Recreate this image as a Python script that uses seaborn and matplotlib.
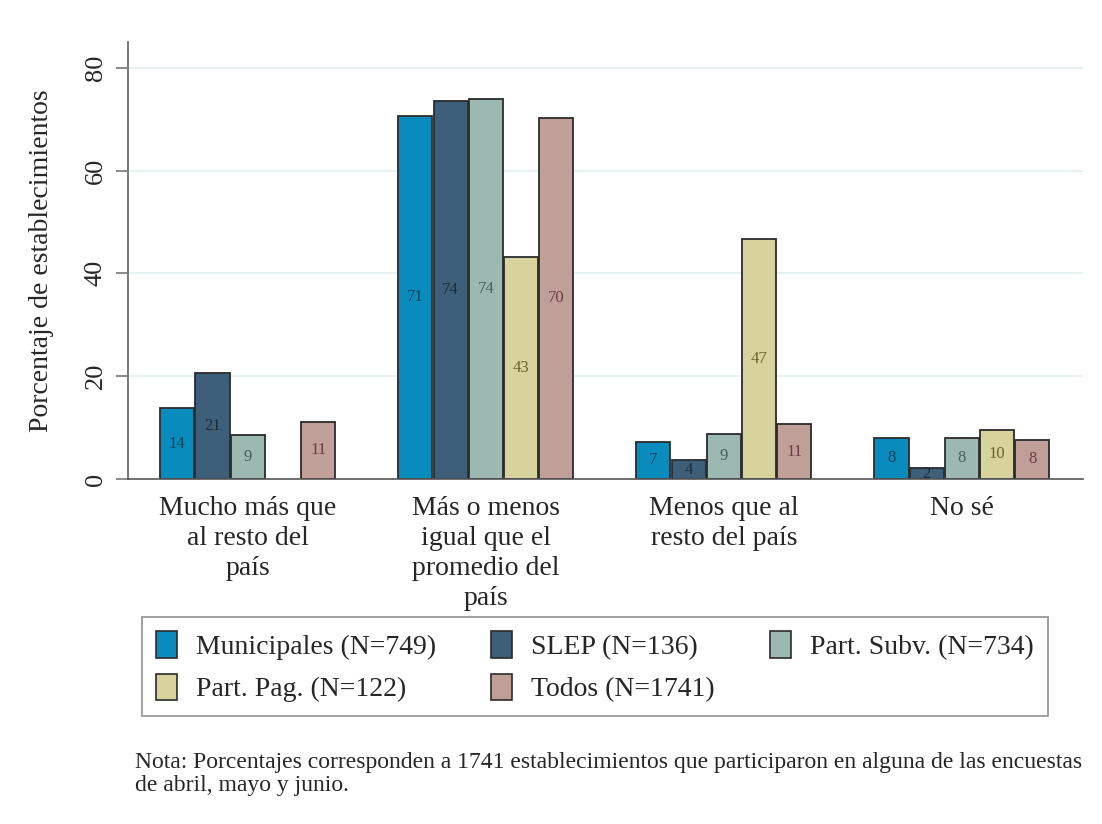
import numpy as np
import pandas as pd
import matplotlib
matplotlib.use("Agg")
import matplotlib.pyplot as plt
import seaborn as sns
from matplotlib.patches import Patch

categories = ["Mucho más que\nal resto del\npaís",
              "Más o menos\nigual que el\npromedio del\npaís",
              "Menos que al\nresto del país",
              "No sé"]
series_names = ["Municipales (N=749)", "SLEP (N=136)", "Part. Subv. (N=734)",
                "Part. Pag. (N=122)", "Todos (N=1741)"]
municipales = [13.8, 70.7, 7.2, 8.0]
slep = [20.6, 73.6, 3.6, 2.1]
part_subv = [8.6, 74.0, 8.8, 8.0]
part_pag = [np.nan, 43.2, 46.7, 9.6]
todos = [11.1, 70.3, 10.6, 7.6]

colors = ["#0a8bbd", "#3d5f7a", "#9bb8b1", "#d8d39d", "#c19f99"]
label_colors = ["#0b4358", "#1b2b38", "#4b5f5b", "#6b5f2e", "#6d3b44"]

rows = []
for name, vals in zip(series_names, [municipales, slep, part_subv, part_pag, todos]):
    for c, v in zip(categories, vals):
        rows.append({"cat": c, "serie": name, "val": v})
df = pd.DataFrame(rows)

sns.set_theme(style="white")
plt.rcParams['font.family'] = ['Liberation Serif', 'DejaVu Serif']

fig = plt.figure(figsize=(11.02, 8.24), dpi=100)
ax = fig.add_axes([0.116, 0.4187, 0.867, 0.5303])

sns.barplot(data=df, x="cat", y="val", hue="serie", order=categories,
            hue_order=series_names, palette=colors, width=0.74, gap=0.03,
            edgecolor="#2b2b2b", linewidth=1.3, saturation=1, ax=ax,
            legend=False)

for cont, lc in zip(ax.containers, label_colors):
    labs = []
    for b in cont:
        h = b.get_height()
        labs.append("" if (h is None or np.isnan(h) or h == 0) else f"{h:.0f}")
    ax.bar_label(cont, labels=labs, label_type="center", color=lc, fontsize=12)

ax.set_ylim(0, 85)
ax.set_xlim(-0.504, 3.51)
ax.set_yticks([0, 20, 40, 60, 80])
ax.set_yticklabels(["0", "20", "40", "60", "80"], rotation=90, va="center",
                   fontsize=19)
ax.tick_params(axis="y", length=9, width=1.2, color="#777777", left=True, pad=6)
ax.tick_params(axis="x", length=0, pad=12)
for t in ax.get_xticklabels():
    t.set_fontsize(20)
    t.set_linespacing(1.27)
ax.set_xlabel("")
ax.set_ylabel("Porcentaje de establecimientos", fontsize=20, labelpad=22)
for y in [20, 40, 60, 80]:
    ax.axhline(y, color="#e9f2f3", lw=1.5, zorder=0)
for s in ["top", "right"]:
    ax.spines[s].set_visible(False)
ax.spines["left"].set_color("#777777")
ax.spines["bottom"].set_color("#555555")
ax.spines["left"].set_linewidth(1.4)
ax.spines["bottom"].set_linewidth(1.2)
ax.set_axisbelow(True)

order = [0, 3, 1, 4, 2]
handles = [Patch(facecolor=colors[i], edgecolor="#2b2b2b", linewidth=1.2) for i in order]
labels = [series_names[i] for i in order]
leg = fig.legend(handles, labels, loc="upper left",
                 bbox_to_anchor=(0.1289, 0.1371, 0.822, 0.114),
                 bbox_transform=fig.transFigure,
                 ncol=3, fontsize=20, mode="expand",
                 frameon=True, fancybox=False, edgecolor="#888888",
                 handlelength=0.75, handleheight=1.1, handletextpad=0.7,
                 borderpad=0.5, labelspacing=0.5, borderaxespad=0)
leg.get_frame().set_linewidth(1.4)

fig.text(0.1225, 0.0875,
         "Nota: Porcentajes corresponden a 1741 establecimientos que participaron en alguna de las encuestas\nde abril, mayo y junio.",
         fontsize=17, ha="left", va="top", linespacing=1.1)

fig.savefig("out.png", dpi=100, facecolor="white")
